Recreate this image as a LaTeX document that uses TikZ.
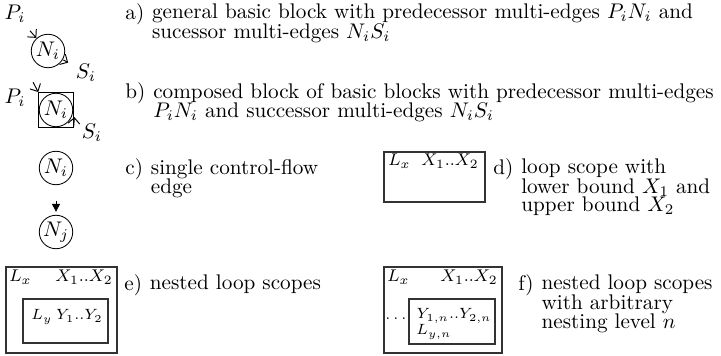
\documentclass[tikz,border=0pt]{standalone}
\usetikzlibrary{arrows.meta,positioning}
\newcommand{\pu}{0.472pt}
\begin{document}
\lineskip=0.2pt
\begin{tikzpicture}[
  x=\pu, y=-\pu,
  font=\fontsize{10}{6.75}\selectfont,
  blk/.style    = {draw, circle, minimum size=15.8pt, inner sep=0pt},
  cblk/.style   = {draw, rectangle, minimum size=16.2pt, inner sep=0pt},
  medge/.style  = {-{Straight Barb[length=2.8pt,width=5.6pt]}, line width=0.45pt,
                   shorten <=0.3pt, shorten >=0.2pt},
  cf/.style     = {-{Triangle[length=3.8pt,width=3.8pt]}, shorten <=7.4pt, shorten >=1.4pt},
  lscope/.style = {draw=black!80, line width=0.5pt},
  tag/.style    = {anchor=base west, inner sep=0pt},
  desc/.style   = {anchor=north west, align=left, inner sep=0pt},
  rng/.style    = {font=\footnotesize, inner sep=0pt, anchor=base east},
  lvar/.style   = {font=\footnotesize, inner sep=0pt, anchor=base west},
]
\useasboundingbox (0,0) rectangle (721,356);

% --- a) general basic block ----------------------------------------------------
\node[blk] (Na) at (48,51) {$N_i$};
\node (Pa) at (15,14) {$P_i$};
\node (Sa) at (86,73) {$S_i$};
\draw[medge] (Pa) -- (Na);
\draw[medge] (Na) -- (Sa);
\node[tag] (ta) at (125,20) {a)};
\node[desc] at ([xshift=3.3pt]ta.north east)
  {general basic block with predecessor multi-edges $P_iN_i$ and\\sucessor multi-edges $N_iS_i$};

% --- b) composed block -----------------------------------------------------------
\node[cblk] (Bb) at (56,110) {};
\node[blk] (Nb) at (56,110) {$N_i$};
\node (Pb) at (15,98) {$P_i$};
\node (Sb) at (92,133) {$S_i$};
\draw[medge] (Pb.north east) -- (Bb.north west);
\draw[medge] (Bb.south east) -- (Sb.north west);
\node[tag] (tb) at (125,99) {b)};
\node[desc] at ([xshift=3.3pt]tb.north east)
  {composed block of basic blocks with predecessor multi-edges\\$P_iN_i$ and successor multi-edges $N_iS_i$};

% --- c) control-flow edge --------------------------------------------------------
\node[blk] (Nc) at (56,168) {$N_i$};
\node[blk] (Njc) at (56,232) {$N_j$};
\draw[cf] (Nc) -- (Njc);
\node[tag] (tc) at (125,175) {c)};
\node[desc] at ([xshift=3.3pt]tc.north east) {single control-flow\\edge};

% --- d) loop scope ---------------------------------------------------------------
\draw[lscope] (384,152) rectangle (485,202);
\node[lvar] (Ld) at (388,166) {$L_x$};
\node[rng] (Xd) at (479,166) {$X_1..X_2$};
\node[tag] (td) at (493,175) {d)};
\node[desc] at ([xshift=3.3pt]td.north east) {loop scope with\\lower bound $X_1$ and\\upper bound $X_2$};

% --- e) nested loop scopes -------------------------------------------------------
\draw[lscope] (6,267) rectangle (117,353);
\draw[lscope] (23,299) rectangle (108,343);
\node[lvar] (Le) at (9,282) {$L_x$};
\node[rng] (Xe) at (113,282) {$X_1..X_2$};
\node[lvar, font=\scriptsize] (Lye) at (31,320) {$L_y$};
\node[rng, font=\scriptsize] (Ye) at (103,320) {$Y_1..Y_2$};
\node[tag] (te) at (124,291) {e)};
\node[desc] at ([xshift=3.3pt]te.north east) {nested loop scopes};

% --- f) arbitrary nesting --------------------------------------------------------
\draw[lscope] (384,267) rectangle (502,353);
\draw[lscope] (409,299) rectangle (495,344);
\node[lvar] (Lf) at (387,282) {$L_x$};
\node[rng] (Xf) at (498,282) {$X_1..X_2$};
\node[lvar, font=\scriptsize] (Df) at (385,320) {$\ldots$};
\node[rng, font=\scriptsize] (Yf) at (492,319) {$Y_{1,n}..Y_{2,n}$};
\node[lvar, font=\scriptsize] (Lyf) at (416,335) {$L_{y,n}$};
\node[tag] (tf) at (518,291) {f)};
\node[desc] at ([xshift=3.3pt]tf.north east) {nested loop scopes\\with arbitrary\\nesting level $n$};

\end{tikzpicture}
\end{document}
